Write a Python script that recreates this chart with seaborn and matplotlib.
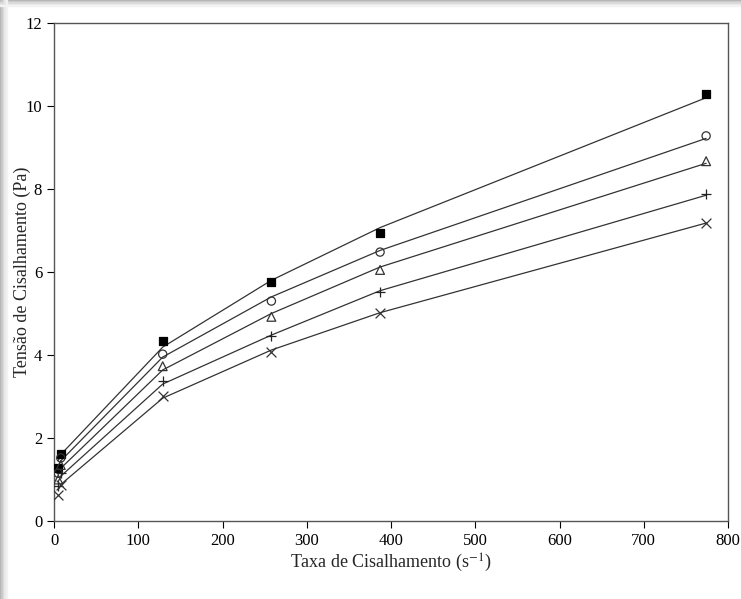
import pandas as pd
import matplotlib
matplotlib.use("Agg")
import matplotlib.pyplot as plt
import seaborn as sns
from matplotlib.patches import Rectangle

# shear rate points (s^-1)
taxa = [5, 8, 129, 258, 387, 774]

# measured shear stress (Pa), one list per series
tensao_quadrado = [1.27, 1.62, 4.33, 5.77, 6.93, 10.30]
tensao_circulo = [1.15, 1.52, 4.02, 5.30, 6.48, 9.28]
tensao_triangulo = [1.00, 1.35, 3.73, 4.92, 6.05, 8.67]
tensao_mais = [0.85, 1.15, 3.37, 4.46, 5.52, 7.88]
tensao_xis = [0.63, 0.87, 3.01, 4.07, 5.01, 7.18]

# fitted model values at the same shear rates
ajuste_quadrado = [1.45, 1.60, 4.19, 5.80, 7.07, 10.20]
ajuste_circulo = [1.30, 1.45, 3.95, 5.40, 6.52, 9.22]
ajuste_triangulo = [1.12, 1.27, 3.64, 5.00, 6.12, 8.62]
ajuste_mais = [0.95, 1.08, 3.30, 4.48, 5.55, 7.85]
ajuste_xis = [0.75, 0.88, 2.96, 4.12, 5.02, 7.18]

series = ["a", "b", "c", "d", "e"]
medidas = [tensao_quadrado, tensao_circulo, tensao_triangulo, tensao_mais, tensao_xis]
ajustes = [ajuste_quadrado, ajuste_circulo, ajuste_triangulo, ajuste_mais, ajuste_xis]

rows = []
for s, m, a in zip(series, medidas, ajustes):
    for x, y, f in zip(taxa, m, a):
        rows.append({"serie": s, "taxa": x, "tensao": y, "ajuste": f})
df = pd.DataFrame(rows)

sns.set_style("white")
plt.rcParams["font.family"] = ["Liberation Serif", "DejaVu Serif"]
plt.rcParams["mathtext.fontset"] = "stix"

fig = plt.figure(figsize=(7.41, 5.99), dpi=100)
fig.patch.set_facecolor("white")

# gray frame shadow like the screenshot
for i, g in enumerate([0.70, 0.78, 0.85, 0.91, 0.95]):
    fig.patches.append(Rectangle((i * 0.002, 0), 0.002, 1, transform=fig.transFigure,
                                 color=str(g), zorder=-5))
    fig.patches.append(Rectangle((0, 1 - (i + 1) * 0.002), 1, 0.002, transform=fig.transFigure,
                                 color=str(g), zorder=-5))

ax = fig.add_axes([0.0729, 0.1302, 0.9096, 0.8314])

sns.lineplot(data=df, x="taxa", y="ajuste", units="serie", estimator=None,
             color="#333333", linewidth=0.9, ax=ax, legend=False)

estilos = {
    "a": dict(marker="s", facecolor="black", edgecolor="black", s=40),
    "b": dict(marker="o", facecolor="none", edgecolor="#333333", s=35),
    "c": dict(marker="^", facecolor="none", edgecolor="#333333", s=40),
    "d": dict(marker="+", color="#222222", s=60),
    "e": dict(marker="x", color="#333333", s=50),
}
for s in series:
    sub = df[df["serie"] == s]
    st = estilos[s]
    if st["marker"] in ["+", "x"]:
        ax.scatter(sub["taxa"], sub["tensao"], marker=st["marker"], c=st["color"],
                   s=st["s"], linewidths=0.9, zorder=3)
    else:
        sns.scatterplot(x=sub["taxa"], y=sub["tensao"], marker=st["marker"],
                        facecolor=st["facecolor"], edgecolor=st["edgecolor"],
                        s=st["s"], linewidth=0.9, ax=ax, zorder=3, legend=False)

ax.set_xlim(0, 800)
ax.set_ylim(0, 12)
ax.set_xticks(range(0, 801, 100))
ax.set_yticks(range(0, 13, 2))
ax.tick_params(axis="both", direction="out", length=5, width=0.8, labelsize=12,
               bottom=True, left=True, colors="black")
for sp in ax.spines.values():
    sp.set_color("#555555")
    sp.set_linewidth(1)
ax.set_xlabel(r"Taxa de Cisalhamento (s$^{-1}$)", fontsize=13, va="center")
ax.set_ylabel("Tensão de Cisalhamento (Pa)", fontsize=13, va="center")
ax.xaxis.set_label_coords(0.5, -0.085)
ax.yaxis.set_label_coords(-0.0475, 0.5)

fig.savefig("out.png", dpi=100)
